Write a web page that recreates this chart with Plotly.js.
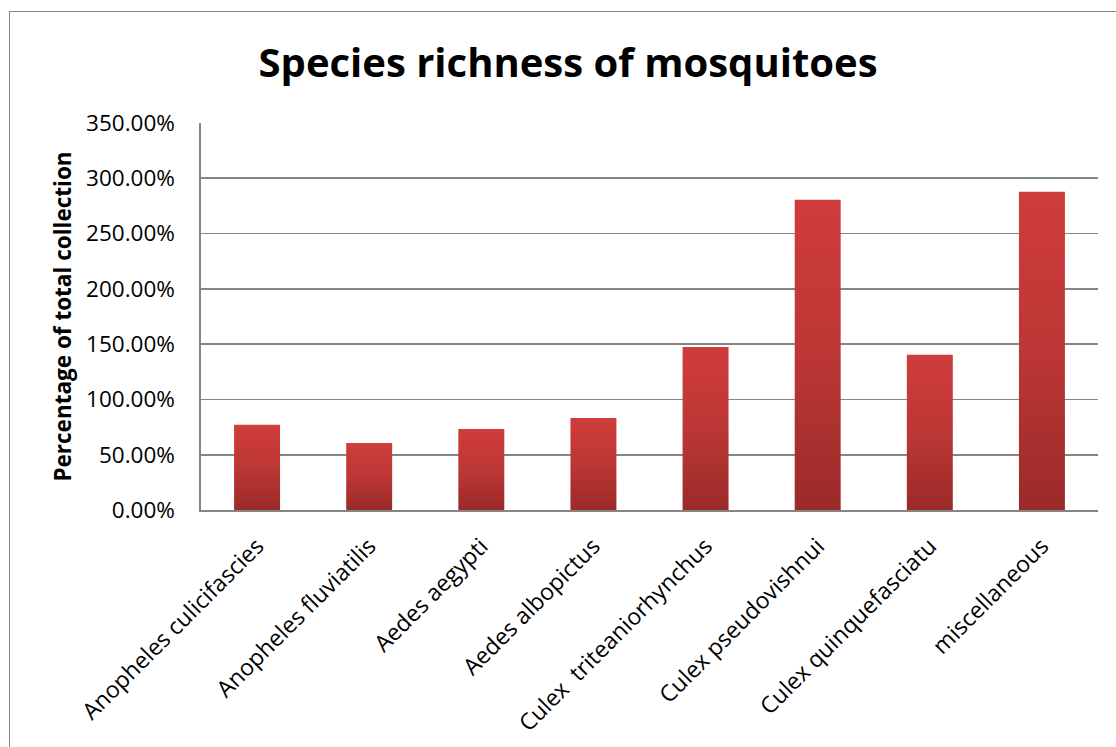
<!DOCTYPE html>
<html>
<head>
<meta charset="utf-8">
<script src="https://cdn.plot.ly/plotly-3.0.1.min.js"></script>
<style>
  html, body { margin: 0; padding: 0; background: #fff; overflow: hidden; }
  #frame { position: absolute; left: 9px; top: 11px; width: 2000px; height: 2000px;
           border: 1.5px solid #878787; box-sizing: border-box; }
  #chart { position: absolute; left: 0; top: 0; width: 1116px; height: 747px; }
</style>
</head>
<body>
<div id="frame"></div>
<div id="chart"></div>
<script>
const categories = [
  "Anopheles culicifascies",
  "Anopheles fluviatilis",
  "Aedes aegypti",
  "Aedes albopictus",
  "Culex\u00a0 triteaniorhynchus",
  "Culex pseudovishnui",
  "Culex quinquefasciatu",
  "miscellaneous"
];
const percentages = [0.77, 0.606, 0.733, 0.833, 1.475, 2.806, 1.403, 2.878];
const titleText = "Species richness of mosquitoes";
const yTitleText = "Percentage of total collection";

const FONT = "Open Sans, Liberation Sans, sans-serif";
const GRID = "#858585";

const trace = {
  type: "bar",
  x: categories,
  y: percentages,
  marker: { color: "#BA3533", line: { width: 0 } },
  hoverinfo: "x+y"
};

const layout = {
  width: 1116,
  height: 747,
  paper_bgcolor: "rgba(0,0,0,0)",
  plot_bgcolor: "rgba(0,0,0,0)",
  margin: { l: 201, r: 18, t: 123, b: 237, pad: 0 },
  bargap: 0.59,
  showlegend: false,
  font: { family: FONT, color: "#000" },
  title: {
    text: "<b>" + titleText + "</b>",
    font: { family: FONT, size: 40, color: "#000" },
    xref: "container", yref: "container",
    x: 0.509, xanchor: "center",
    y: 0.916, yanchor: "middle"
  },
  xaxis: {
    type: "category",
    tickangle: -45,
    tickfont: { family: FONT, size: 23, color: "#000" },
    showline: true, linecolor: GRID, linewidth: 1.6,
    ticks: "", ticklabelstandoff: 12,
    showgrid: false, zeroline: false
  },
  yaxis: {
    range: [0, 3.5],
    dtick: 0.5,
    tick0: 0,
    tickformat: ".2%",
    tickfont: { family: FONT, size: 22.5, color: "#000" },
    showline: true, linecolor: GRID, linewidth: 1.6,
    showgrid: true, gridcolor: GRID, gridwidth: 1.6,
    zeroline: false,
    ticks: "", ticklabelstandoff: 20,
    automargin: true,
    title: {
      text: "<b>" + yTitleText + "</b>",
      font: { family: FONT, size: 22.5, color: "#000" },
      standoff: 8
    }
  }
};

Plotly.newPlot("chart", [trace], layout, { displayModeBar: false, staticPlot: true }).then(function (gd) {
  const svg = gd.querySelector("svg.main-svg");
  const ns = "http://www.w3.org/2000/svg";
  let defs = svg.querySelector("defs");
  if (!defs) { defs = document.createElementNS(ns, "defs"); svg.insertBefore(defs, svg.firstChild); }
  const grad = document.createElementNS(ns, "linearGradient");
  grad.setAttribute("id", "barGrad");
  grad.setAttribute("x1", "0"); grad.setAttribute("y1", "0");
  grad.setAttribute("x2", "0"); grad.setAttribute("y2", "1");
  [["0", "#CF3C3B"], ["0.5", "#BC3735"], ["1", "#9A2A29"]].forEach(function (s) {
    const st = document.createElementNS(ns, "stop");
    st.setAttribute("offset", s[0]);
    st.setAttribute("stop-color", s[1]);
    grad.appendChild(st);
  });
  defs.appendChild(grad);
  gd.querySelectorAll(".bars .point path").forEach(function (p) {
    p.style.fill = "url(#barGrad)";
  });
});
</script>
</body>
</html>
